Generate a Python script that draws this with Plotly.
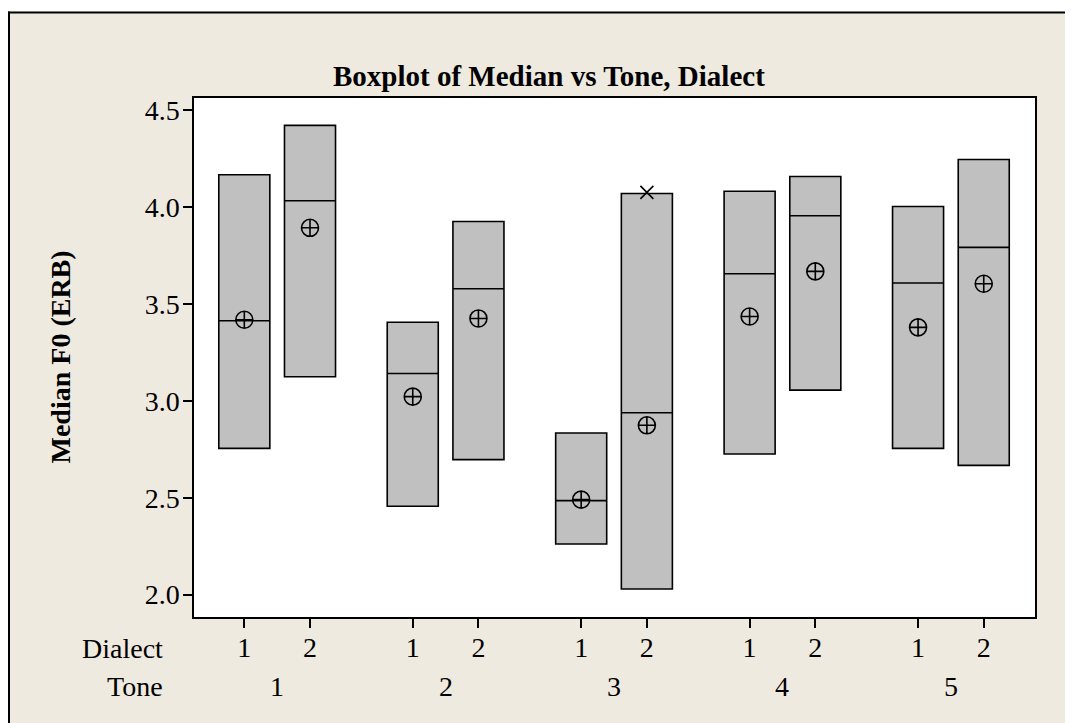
import plotly.graph_objects as go

# ---- data ----
tones = [1, 2, 3, 4, 5]
dialects = [1, 2]
# order: (tone1,d1), (tone1,d2), (tone2,d1), ...
q1 = [2.755, 3.125, 2.456, 2.697, 2.261, 2.029, 2.726, 3.056, 2.755, 2.667]
median = [3.414, 4.034, 3.142, 3.579, 2.485, 2.939, 3.657, 3.956, 3.609, 3.793]
q3 = [4.168, 4.423, 3.406, 3.927, 2.834, 4.071, 4.083, 4.159, 4.004, 4.247]
mean = [3.419, 3.894, 3.022, 3.426, 2.490, 2.874, 3.436, 3.669, 3.380, 3.605]
outlier_tone = [3]
outlier_dialect = [2]
outlier_value = [4.077]
y_ticks = [2.0, 2.5, 3.0, 3.5, 4.0, 4.5]

# ---- layout constants ----
DIALECT_OFFSET = 0.195
BOX_WIDTH = 0.303
FONT = "Liberation Serif"
BEIGE = "#EEEAE0"
PAGE_OFF = 8  # default body margin of the html page

def pos(t, d):
    return t + (d - 1.5) * 2 * DIALECT_OFFSET

group_t = [t for t in tones for d in dialects]
group_d = [d for t in tones for d in dialects]
xpos = [pos(t, d) for t, d in zip(group_t, group_d)]

fig = go.Figure()
fig.add_trace(go.Box(
    x=xpos, q1=q1, median=median, q3=q3, lowerfence=q1, upperfence=q3,
    width=BOX_WIDTH, fillcolor="#C0C0C0",
    line=dict(color="black", width=1.6), whiskerwidth=0,
    boxpoints=False, showlegend=False, hoverinfo="skip",
))
fig.add_trace(go.Scatter(
    x=xpos, y=mean, mode="markers", showlegend=False, hoverinfo="skip",
    marker=dict(symbol="circle-cross-open", size=17, color="black",
                line=dict(color="black", width=1.6)),
))
fig.add_trace(go.Scatter(
    x=[pos(t, d) for t, d in zip(outlier_tone, outlier_dialect)], y=outlier_value,
    mode="markers", showlegend=False, hoverinfo="skip",
    marker=dict(symbol="x-thin-open", size=13, color="black",
                line=dict(color="black", width=1.6)),
))

W, H = 1073 - PAGE_OFF, 723 - PAGE_OFF
L = 194 - PAGE_OFF
R = W - (1035 - PAGE_OFF)
T = 97.5 - PAGE_OFF
B = H - (616.7 - PAGE_OFF)
pw, ph = W - L - R, H - T - B

def px_x(page_x):
    return (page_x - PAGE_OFF - L) / pw

def px_y(page_y):
    return (H - B - (page_y - PAGE_OFF)) / ph

annotations = []
for t in tones:
    annotations.append(dict(x=t, xref="x", y=px_y(686), yref="paper", text=str(t),
                            showarrow=False, yanchor="middle",
                            font=dict(family=FONT, size=28, color="black")))
annotations.append(dict(x=px_x(165), xref="paper", y=px_y(648), yref="paper", text="Dialect",
                        showarrow=False, xanchor="right", yanchor="middle",
                        font=dict(family=FONT, size=28, color="black")))
annotations.append(dict(x=px_x(165), xref="paper", y=px_y(686), yref="paper", text="Tone",
                        showarrow=False, xanchor="right", yanchor="middle",
                        font=dict(family=FONT, size=28, color="black")))
annotations.append(dict(x=px_x(60), xref="paper", y=0.5, yref="paper",
                        text="<b>Median F0 (ERB)</b>", textangle=-90,
                        showarrow=False, xanchor="center", yanchor="middle",
                        font=dict(family=FONT, size=28, color="black")))
annotations.append(dict(x=px_x(548.5), xref="paper", y=px_y(75), yref="paper",
                        text="<b>Boxplot of Median vs Tone, Dialect</b>",
                        showarrow=False, xanchor="center", yanchor="middle",
                        font=dict(family=FONT, size=29, color="black")))

shapes = [
    # white strip above the beige frame
    dict(type="rect", xref="paper", yref="paper", x0=px_x(0), x1=px_x(1100), y0=px_y(11), y1=px_y(0),
         fillcolor="white", line=dict(width=0), layer="above"),
    # frame lines (left and top)
    dict(type="line", xref="paper", yref="paper", x0=px_x(9), x1=px_x(9), y0=px_y(740), y1=px_y(11),
         line=dict(color="black", width=2), layer="above"),
    dict(type="line", xref="paper", yref="paper", x0=px_x(8), x1=px_x(1100), y0=px_y(12), y1=px_y(12),
         line=dict(color="black", width=2), layer="above"),
]

fig.update_layout(
    width=W, height=H,
    margin=dict(l=L, r=R, t=T, b=B, autoexpand=False),
    paper_bgcolor=BEIGE, plot_bgcolor="white",
    font=dict(family=FONT, size=28, color="black"),
    annotations=annotations, shapes=shapes,
    xaxis=dict(range=[0.5063, 5.4993], tickvals=xpos, ticktext=[str(d) for d in group_d],
               showgrid=False, zeroline=False, showline=True, mirror=True,
               linecolor="black", linewidth=1.5, ticks="outside", ticklen=9,
               tickwidth=1.5, tickcolor="black", ticklabelstandoff=-4,
               tickfont=dict(family=FONT, size=28, color="black")),
    yaxis=dict(range=[1.884, 4.5645], tickvals=y_ticks, tickformat=".1f",
               showgrid=False, zeroline=False, showline=True, mirror=True,
               linecolor="black", linewidth=1.5, ticks="outside", ticklen=9,
               tickwidth=1.5, tickcolor="black", ticklabelstandoff=-2,
               tickfont=dict(family=FONT, size=28, color="black")),
)

fig.write_html("out.html")
